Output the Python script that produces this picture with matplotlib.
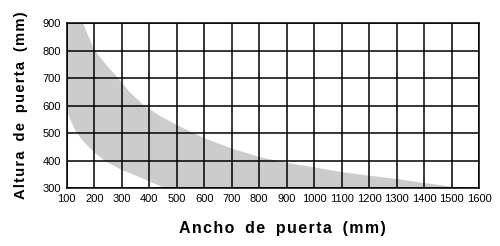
import numpy as np
import matplotlib
matplotlib.use('Agg')
import matplotlib.pyplot as plt

plt.rcParams['font.family'] = ['Liberation Sans', 'DejaVu Sans']

# Banda de uso: limite superior e inferior (ancho mm, altura mm)
upper_w = [100, 160, 180, 200, 230, 260, 290, 330, 380, 440, 500, 550, 600,
           700, 800, 900, 1000, 1100, 1200, 1300, 1400, 1470, 1535]
upper_h = [900, 900, 850, 805, 765, 730, 697, 648, 602, 562, 530, 505, 482,
           444, 413, 392, 375, 358, 345, 333, 318, 309, 300]
lower_w = [100, 110, 130, 155, 200, 240, 295, 350, 400, 455]
lower_h = [590, 555, 512, 476, 430, 398, 368, 346, 324, 300]

x_ticks = list(range(100, 1700, 100))
y_ticks = list(range(300, 1000, 100))

x_label = 'Ancho de puerta (mm)'
y_label = 'Altura de puerta (mm)'


def spaced(s):
    # letter spacing like the original
    return '\u200a'.join(s).replace(' ', '\u2002')


fig = plt.figure(figsize=(5.0, 2.46), dpi=100)
ax = fig.add_axes([0.1334, 0.2358, 0.8252, 0.6695])

poly_x = upper_w + lower_w[::-1]
poly_y = upper_h + lower_h[::-1]
ax.fill(poly_x, poly_y, color='#cccccc', lw=0, zorder=1)

ax.set_xlim(100, 1600)
ax.set_ylim(300, 900)
ax.set_xticks(x_ticks)
ax.set_yticks(y_ticks)
ax.grid(True, color='black', lw=1.1, zorder=2)
ax.set_axisbelow(False)
for sp in ax.spines.values():
    sp.set_color('black')
    sp.set_linewidth(1.1)
ax.tick_params(length=0, labelsize=8, pad=4)

ax.set_xlabel(spaced(x_label), fontsize=11.5, fontweight='bold')
ax.set_ylabel(spaced(y_label), fontsize=10.6, fontweight='bold')
ax.xaxis.set_label_coords(0.522, -0.2)
ax.yaxis.set_label_coords(-0.095, 0.5)

fig.savefig('out.png', dpi=100)
